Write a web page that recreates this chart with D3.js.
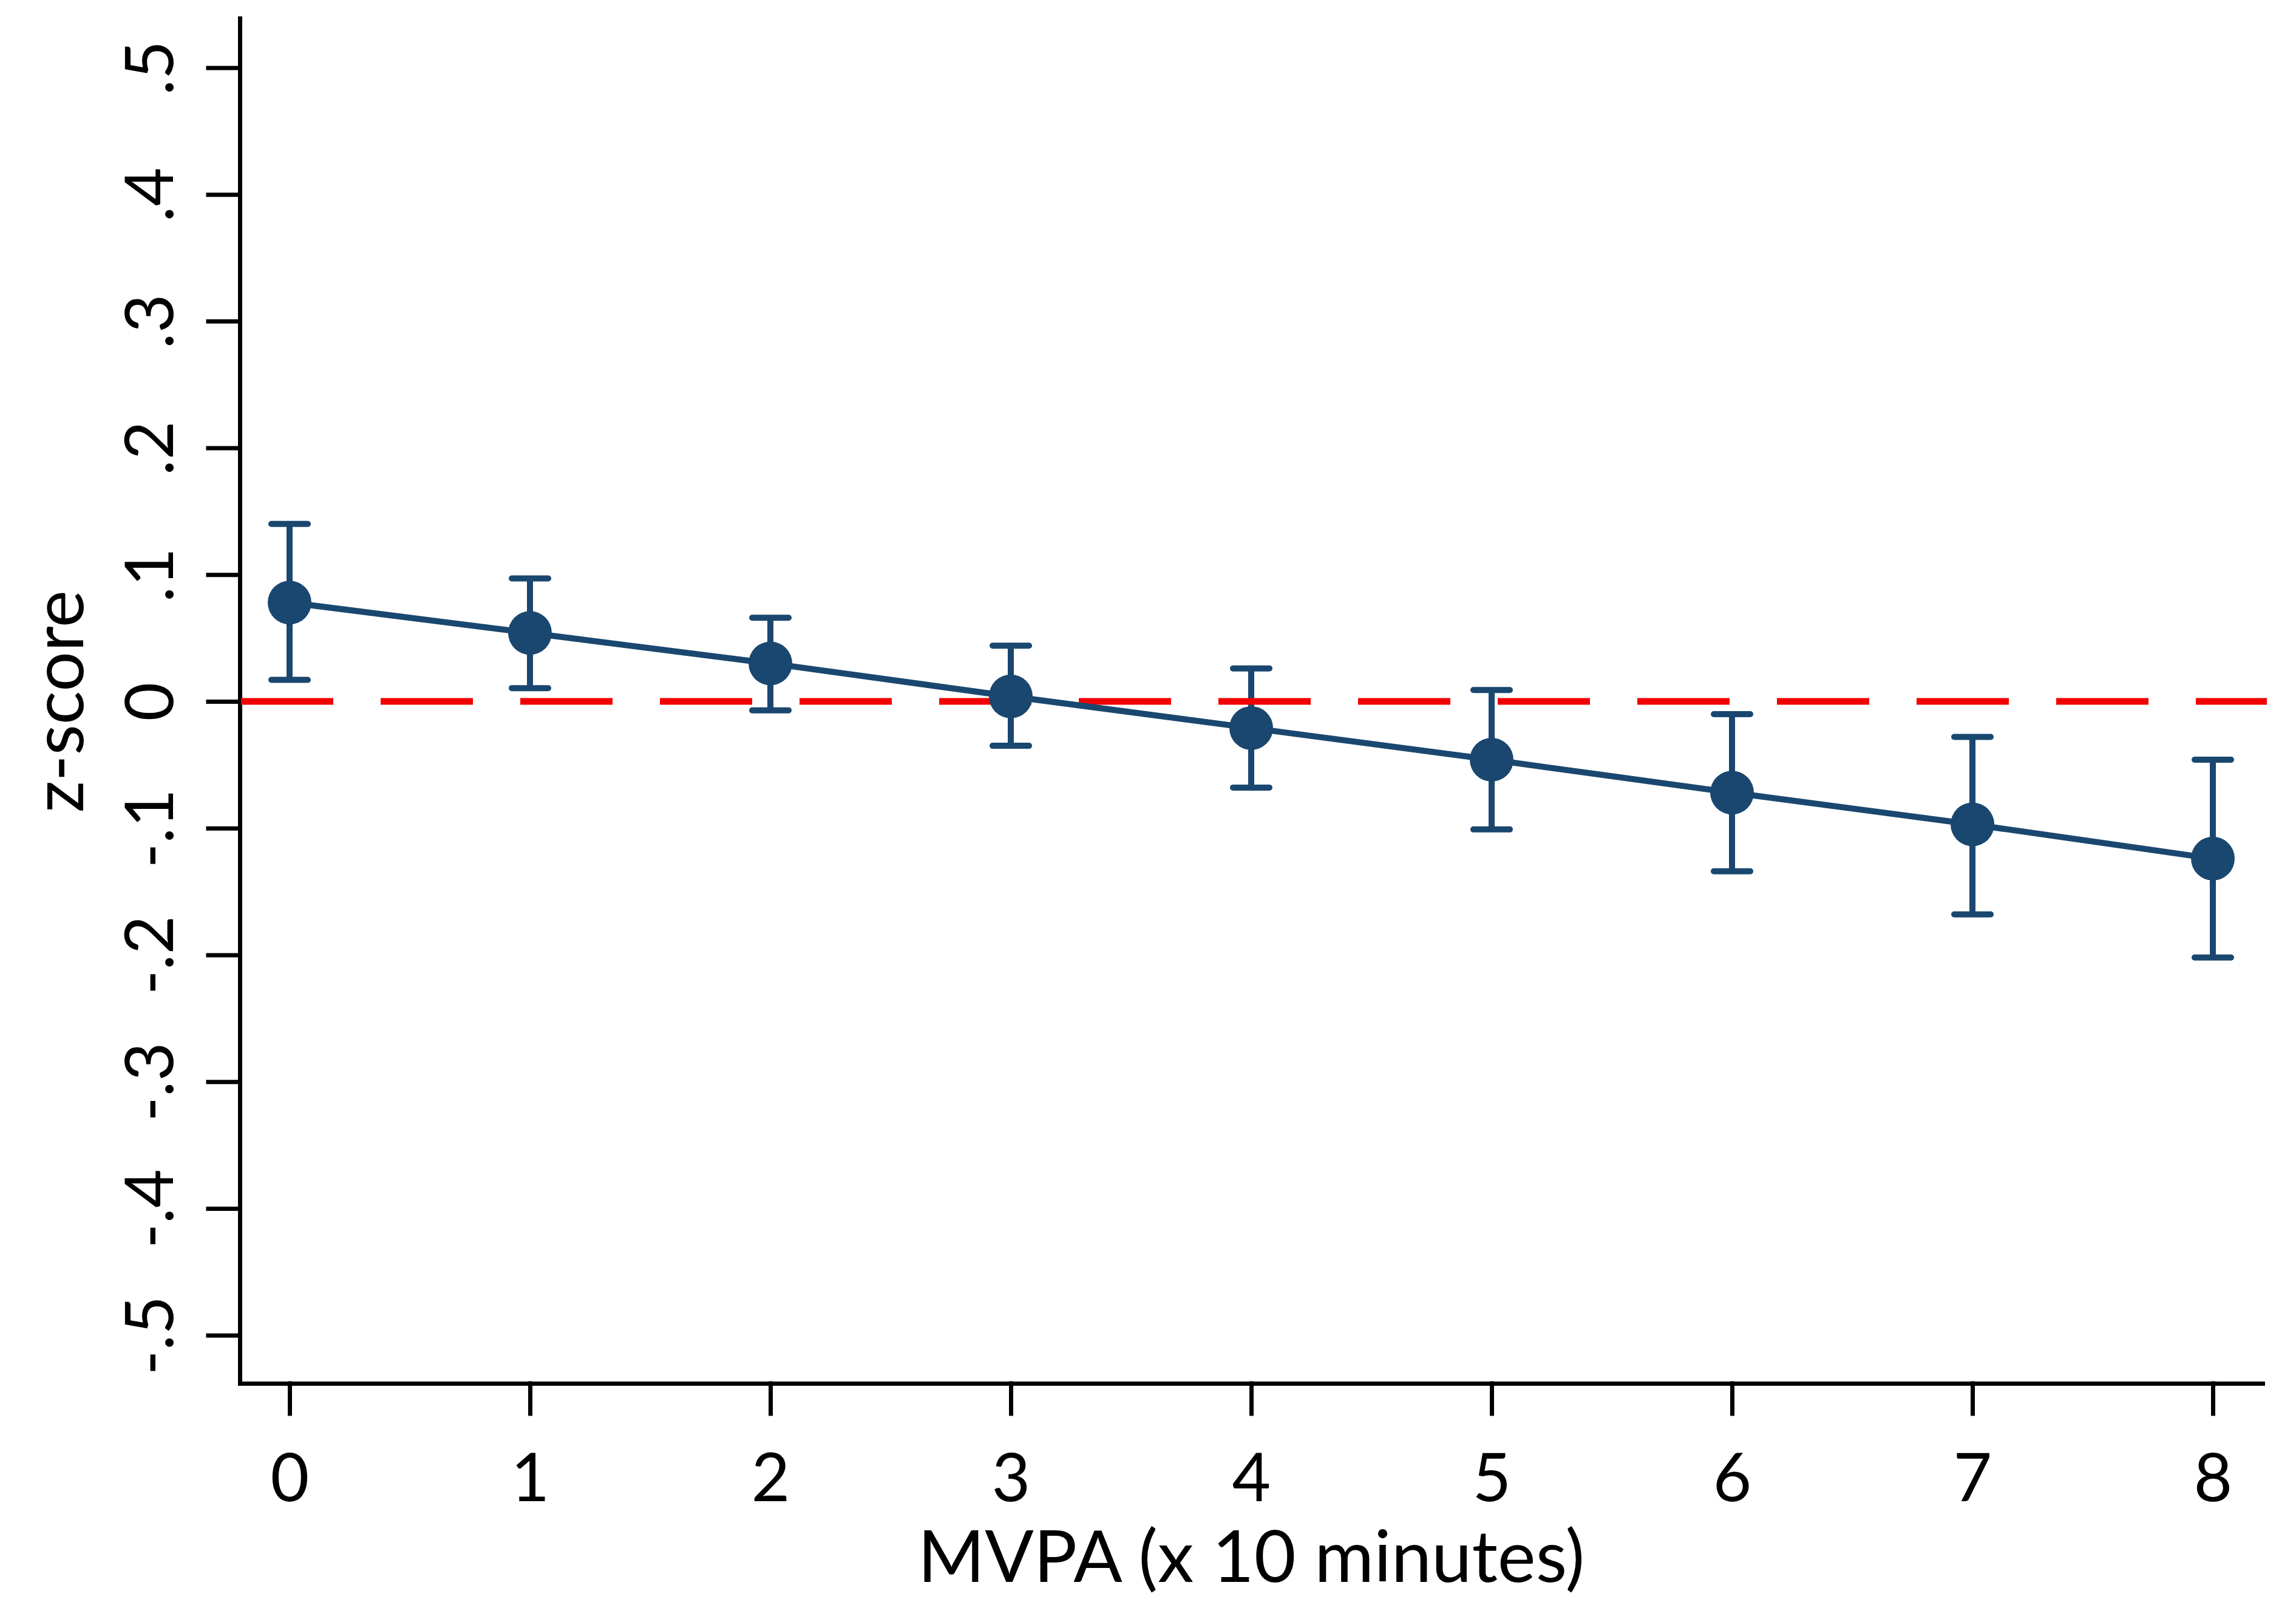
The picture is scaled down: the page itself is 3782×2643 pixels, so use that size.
<!DOCTYPE html>
<html>
<head>
<meta charset="utf-8">
<script src="https://cdn.jsdelivr.net/npm/d3@7"></script>
<style>
    body { margin: 0; background: #fff; }
    text { font-family: Lato, "Open Sans", sans-serif; fill: #000; }
    .axis path, .axis line { stroke: #000; stroke-width: 7; stroke-linecap: square; }
</style>
</head>
<body>
<div id="chart"></div>
<script>
// values
const minutes = [0, 1, 2, 3, 4, 5, 6, 7, 8];
const zscore = [0.078, 0.054, 0.030, 0.004, -0.021, -0.046, -0.072, -0.097, -0.124];
const ciLower = [0.017, 0.0105, -0.007, -0.035, -0.068, -0.101, -0.134, -0.168, -0.202];
const ciUpper = [0.140, 0.097, 0.066, 0.044, 0.026, 0.009, -0.010, -0.028, -0.046];
const yTicks = [-0.5, -0.4, -0.3, -0.2, -0.1, 0, 0.1, 0.2, 0.3, 0.4, 0.5];
const yTickLabels = ["-.5", "-.4", "-.3", "-.2", "-.1", "0", ".1", ".2", ".3", ".4", ".5"];
const xTickLabels = ["0", "1", "2", "3", "4", "5", "6", "7", "8"];
const xTitle = "MVPA (x 10 minutes)";
const yTitle = "z-score";

const width = 3782, height = 2643;
const navy = "#1a476f";

const xScale = d3.scaleLinear().domain([-0.207, 8.207]).range([395, 3727]);
const yScale = d3.scaleLinear().domain([-0.538, 0.539]).range([2278, 30]);

const svg = d3.select("#chart").append("svg")
    .attr("width", width)
    .attr("height", height);

// y axis
const yAxis = svg.append("g")
    .attr("class", "y axis")
    .attr("transform", "translate(" + xScale.range()[0] + ",0)")
    .call(d3.axisLeft(yScale)
        .tickValues(yTicks)
        .tickFormat((d, i) => yTickLabels[i])
        .tickSize(52)
        .tickSizeOuter(0));
yAxis.selectAll("text")
    .attr("transform", "rotate(-90)")
    .attr("x", 0)
    .attr("y", -110)
    .attr("dy", 0)
    .attr("text-anchor", "middle")
    .style("font-size", "110px");

// x axis
const xAxis = svg.append("g")
    .attr("class", "x axis")
    .attr("transform", "translate(0," + yScale.range()[0] + ")")
    .call(d3.axisBottom(xScale)
        .tickValues(minutes)
        .tickFormat((d, i) => xTickLabels[i])
        .tickSize(50)
        .tickSizeOuter(0));
xAxis.selectAll("text")
    .attr("y", 194)
    .attr("dy", 0)
    .style("font-size", "110px");
svg.selectAll(".axis text").attr("fill", "#000");

// error bars
const bars = svg.append("g");
bars.selectAll(".stem")
    .data(minutes)
    .enter().append("line")
    .attr("x1", d => xScale(d))
    .attr("x2", d => xScale(d))
    .attr("y1", (d, i) => yScale(ciLower[i]))
    .attr("y2", (d, i) => yScale(ciUpper[i]))
    .attr("stroke", navy)
    .attr("stroke-width", 10);
[ciLower, ciUpper].forEach(ci => {
    bars.selectAll(null)
        .data(minutes)
        .enter().append("line")
        .attr("x1", d => xScale(d) - 30)
        .attr("x2", d => xScale(d) + 30)
        .attr("y1", (d, i) => yScale(ci[i]))
        .attr("y2", (d, i) => yScale(ci[i]))
        .attr("stroke", navy)
        .attr("stroke-width", 10)
        .attr("stroke-linecap", "round");
});

// reference line at zero
svg.append("line")
    .attr("x1", xScale.range()[0] + 2)
    .attr("x2", xScale.range()[1] + 7)
    .attr("y1", yScale(0))
    .attr("y2", yScale(0))
    .attr("stroke", "#f00000")
    .attr("stroke-width", 11)
    .attr("stroke-dasharray", "152,78");

// fitted line
const line = d3.line()
    .x((d, i) => xScale(minutes[i]))
    .y(d => yScale(d));
svg.append("path")
    .datum(zscore)
    .attr("fill", "none")
    .attr("stroke", navy)
    .attr("stroke-width", 10)
    .attr("d", line);

// points
svg.selectAll(".dot")
    .data(zscore)
    .enter().append("circle")
    .attr("class", "dot")
    .attr("cx", (d, i) => xScale(minutes[i]))
    .attr("cy", d => yScale(d))
    .attr("r", 36)
    .attr("fill", navy);

// axis titles
svg.append("text")
    .attr("x", xScale(4))
    .attr("y", 2605)
    .attr("text-anchor", "middle")
    .style("font-size", "119px")
    .text(xTitle);
svg.append("text")
    .attr("transform", "translate(137," + yScale(0) + ") rotate(-90)")
    .attr("text-anchor", "middle")
    .style("font-size", "116px")
    .text(yTitle);
</script>
</body>
</html>
